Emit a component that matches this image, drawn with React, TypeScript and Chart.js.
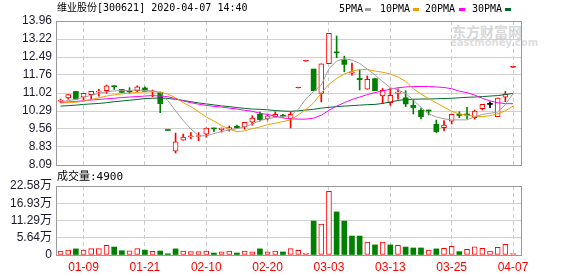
import React, { useEffect, useRef } from 'react';
import { Chart, registerables } from 'chart.js';

Chart.register(...registerables);

// ---------- data ----------
const dates = [
  '01-06', '01-07', '01-08', '01-09', '01-10', '01-13', '01-14', '01-15', '01-16', '01-17',
  '01-20', '01-21', '01-22', '01-23', '02-03', '02-04', '02-05', '02-06', '02-07', '02-10',
  '02-11', '02-12', '02-13', '02-14', '02-17', '02-18', '02-19', '02-20', '02-21', '02-24',
  '02-25', '02-26', '02-27', '02-28', '03-02', '03-03', '03-04', '03-05', '03-06', '03-09',
  '03-10', '03-11', '03-12', '03-13', '03-16', '03-17', '03-18', '03-19', '03-20', '03-23',
  '03-24', '03-25', '03-26', '03-27', '03-30', '03-31', '04-01', '04-02', '04-03', '04-07',
];
const labelledDates = ['01-09', '01-21', '02-10', '02-20', '03-03', '03-13', '03-25', '04-07'];

const opens = [
  10.69, 10.82, 11.09, 10.85, 10.96, 11.06, 11.12, 11.32, 11.17, 11.10,
  11.12, 11.23, 11.07, 11.04, 9.50, 8.65, 9.10, 9.24, 9.25, 9.35,
  9.60, 9.52, 9.55, 9.67, 9.64, 9.84, 10.16, 9.98, 10.05, 10.12,
  9.99, 11.23, 12.32, 12.00, 11.01, 12.22, 12.70, 12.38, 11.83, 11.62,
  11.18, 11.61, 10.91, 10.63, 11.01, 10.83, 10.52, 10.32, 10.33, 9.75,
  9.61, 9.88, 10.16, 10.17, 10.02, 10.39, 10.56, 10.06, 10.85, 12.07,
];
const closes = [
  10.71, 10.96, 10.77, 11.01, 11.09, 11.10, 11.32, 11.28, 11.05, 11.07,
  11.28, 11.09, 11.10, 10.59, 9.50, 9.03, 9.23, 9.28, 9.29, 9.60,
  9.56, 9.60, 9.62, 9.60, 9.83, 10.00, 9.94, 10.09, 10.16, 10.08,
  10.16, 11.23, 12.32, 11.12, 12.21, 13.46, 12.66, 12.19, 11.89, 11.57,
  11.58, 11.12, 11.13, 10.93, 11.07, 10.58, 10.43, 10.06, 10.29, 9.45,
  9.72, 10.16, 10.11, 10.12, 10.29, 10.56, 10.56, 10.82, 10.98, 12.07,
];
const highs = [
  10.78, 10.96, 11.09, 11.01, 11.09, 11.17, 11.35, 11.32, 11.17, 11.24,
  11.32, 11.28, 11.15, 11.07, 9.50, 9.39, 9.35, 9.41, 9.41, 9.60,
  9.60, 9.60, 9.68, 9.72, 9.83, 10.10, 10.25, 10.14, 10.26, 10.16,
  10.24, 11.23, 12.32, 12.00, 12.21, 13.46, 13.35, 12.53, 12.24, 11.96,
  11.72, 11.61, 11.21, 11.21, 11.20, 11.12, 10.77, 10.41, 10.33, 9.92,
  9.90, 10.16, 10.26, 10.44, 10.33, 10.56, 10.67, 10.82, 11.09, 12.07,
];
const lows = [
  10.63, 10.77, 10.77, 10.74, 10.77, 10.90, 11.01, 11.17, 11.05, 11.01,
  11.07, 11.09, 10.87, 10.22, 9.50, 8.58, 9.10, 9.16, 9.08, 9.22,
  9.45, 9.43, 9.47, 9.60, 9.55, 9.71, 9.88, 9.92, 10.05, 10.04,
  9.60, 11.23, 12.32, 11.12, 10.66, 12.22, 12.46, 11.89, 11.75, 11.15,
  11.18, 11.12, 10.59, 10.52, 10.77, 10.47, 10.17, 9.97, 10.13, 9.41,
  9.48, 9.76, 10.02, 9.98, 9.96, 10.33, 10.43, 10.06, 10.67, 12.07,
];
// volume, unit: 万
const volumes = [
  1.3, 1.6, 2.0, 1.6, 2.1, 2.1, 3.2, 2.6, 1.4, 1.4,
  2.1, 1.6, 1.2, 1.3, 0.4, 2.0, 1.3, 1.1, 1.1, 1.3,
  0.65, 1.0, 1.3, 0.65, 1.3, 1.0, 2.0, 1.0, 1.3, 1.0,
  2.1, 1.5, 0.65, 11.1, 10.1, 20.8, 14.1, 11.1, 6.2, 6.2,
  4.25, 3.3, 4.25, 3.3, 3.15, 2.6, 2.3, 2.3, 1.6, 2.0,
  2.2, 2.8, 1.1, 1.85, 2.7, 2.2, 1.3, 2.5, 3.5, 0.49,
];
const ma5 = [
  10.67, 10.71, 10.77, 10.85, 10.93, 11.01, 11.07, 11.11, 11.12, 11.13,
  11.15, 11.13, 11.11, 11.04, 10.71, 10.30, 9.90, 9.56, 9.28, 9.28,
  9.37, 9.45, 9.52, 9.57, 9.65, 9.76, 9.90, 9.98, 10.03, 10.06,
  10.10, 10.36, 10.79, 11.08, 11.35, 12.02, 12.33, 12.42, 12.37, 12.23,
  12.00, 11.76, 11.49, 11.24, 11.15, 11.01, 10.74, 10.44, 10.17, 10.05,
  9.97, 9.93, 9.93, 9.93, 10.05, 10.15, 10.20, 10.25, 10.55, 11.00,
];
const ma10 = [
  10.62, 10.63, 10.65, 10.70, 10.76, 10.83, 10.90, 10.95, 10.99, 11.02,
  11.05, 11.07, 11.08, 11.06, 10.98, 10.83, 10.63, 10.47, 10.26, 10.05,
  9.88, 9.70, 9.55, 9.45, 9.48, 9.57, 9.64, 9.74, 9.79, 9.86,
  9.93, 10.13, 10.36, 10.62, 11.02, 11.38, 11.62, 11.80, 11.92, 11.98,
  11.98, 11.92, 11.87, 11.80, 11.68, 11.50, 11.20, 10.98, 10.80, 10.62,
  10.45, 10.28, 10.17, 10.12, 10.08, 10.06, 10.10, 10.18, 10.30, 10.49,
];
const ma20 = [
  10.63, 10.66, 10.68, 10.71, 10.74, 10.76, 10.79, 10.81, 10.84, 10.86,
  10.88, 10.90, 10.92, 10.90, 10.87, 10.80, 10.70, 10.63, 10.57, 10.52,
  10.48, 10.45, 10.41, 10.37, 10.32, 10.28, 10.20, 10.15, 10.08, 10.01,
  9.97, 9.96, 9.96, 10.00, 10.12, 10.32, 10.49, 10.63, 10.76, 10.86,
  10.96, 11.04, 11.11, 11.18, 11.24, 11.27, 11.29, 11.29, 11.29, 11.27,
  11.25, 11.20, 11.10, 11.04, 10.94, 10.81, 10.70, 10.63, 10.59, 10.59,
];
const ma30 = [
  10.49, 10.51, 10.53, 10.56, 10.58, 10.60, 10.63, 10.67, 10.70, 10.73,
  10.76, 10.80, 10.81, 10.82, 10.80, 10.77, 10.72, 10.67, 10.62, 10.58,
  10.54, 10.50, 10.47, 10.43, 10.40, 10.37, 10.36, 10.34, 10.31, 10.29,
  10.28, 10.30, 10.33, 10.36, 10.41, 10.44, 10.47, 10.49, 10.51, 10.53,
  10.55, 10.56, 10.60, 10.66, 10.72, 10.76, 10.77, 10.78, 10.78, 10.79,
  10.80, 10.81, 10.83, 10.85, 10.86, 10.88, 10.90, 10.92, 10.96, 11.01,
];
const priceTicks = [8.09, 8.83, 9.56, 10.29, 11.02, 11.76, 12.49, 13.22, 13.96];
const volumeTicks = [0, 5.64, 11.29, 16.93, 22.58];

// ---------- styling ----------
const RED = '#ff0000';
const GREEN = '#008000';
const BLACK = '#000000';
const MA_COLORS = ['#a0a0a0', '#f0a000', '#ff00ff', '#00692d'];
const TICK_FONT = { family: "'Liberation Sans', 'Noto Sans CJK SC', sans-serif", size: 12 };
const X_MIN = -0.59;
const X_MAX = 60.17;

const tickIndices = labelledDates.map((d) => dates.indexOf(d));

function candleDir(i: number): number {
  if (closes[i] > opens[i]) return 1;
  if (closes[i] < opens[i]) return -1;
  const prev = i > 0 ? closes[i - 1] : opens[i];
  return closes[i] > prev ? 1 : closes[i] < prev ? -1 : 0;
}
function volumeDir(i: number): number {
  const prev = i > 0 ? closes[i - 1] : opens[i];
  return closes[i] >= prev ? 1 : -1;
}
function dirColor(d: number) {
  return d > 0 ? RED : d < 0 ? GREEN : BLACK;
}

const framePlugin = {
  id: 'frame',
  beforeDatasetsDraw(chart: any) {
    const { ctx, chartArea: a } = chart;
    ctx.save();
    ctx.strokeStyle = '#999999';
    ctx.lineWidth = 1;
    ctx.strokeRect(
      Math.round(a.left) + 0.5,
      Math.round(a.top) + 0.5,
      Math.round(a.right - a.left) - 1,
      Math.round(a.bottom - a.top)
    );
    ctx.restore();
  },
};

function zeroPadding(s: any) {
  s.paddingTop = 0;
  s.paddingBottom = 0;
  s.paddingLeft = 0;
  s.paddingRight = 0;
}

function xScale(showLabels: boolean) {
  return {
    type: 'linear',
    min: X_MIN,
    max: X_MAX,
    offset: false,
    grid: { offset: false, color: '#cccccc', lineWidth: 1, drawTicks: false },
    border: { display: false, dash: [4, 3] },
    ticks: {
      display: showLabels,
      autoSkip: false,
      maxRotation: 0,
      padding: 5,
      color: RED,
      font: TICK_FONT,
      callback: (v: any) => dates[Math.round(Number(v))] ?? '',
    },
    afterBuildTicks: (s: any) => {
      s.ticks = tickIndices.map((v) => ({ value: v }));
    },
    afterFit: (s: any) => {
      s.height = showLabels ? 21 : 0;
      zeroPadding(s);
    },
  };
}

function yScale(min: number, max: number, ticks: number[], fmt: (v: number) => string) {
  return {
    type: 'linear',
    min,
    max,
    grid: { color: '#d0d0d0', lineWidth: 1, drawTicks: false },
    border: { display: false },
    ticks: {
      padding: 4,
      color: '#1a1a2e',
      font: TICK_FONT,
      autoSkip: false,
      callback: (v: any) => fmt(Number(v)),
    },
    afterBuildTicks: (s: any) => {
      s.ticks = ticks.map((v) => ({ value: v }));
    },
    afterFit: (s: any) => {
      s.width = 56;
      zeroPadding(s);
    },
  };
}

function priceConfig(): any {
  const lines = [ma5, ma10, ma20, ma30].map((arr, k) => ({
    type: 'line',
    data: arr.map((v, i) => ({ x: i, y: v })),
    borderColor: MA_COLORS[k],
    borderWidth: 1,
    pointRadius: 0,
    tension: 0,
    fill: false,
    order: 0,
  }));
  const bodies = {
    type: 'bar',
    data: dates.map((_, i) => ({ x: i, y: [Math.min(opens[i], closes[i]), Math.max(opens[i], closes[i])] })),
    grouped: false,
    barThickness: 5,
    maxBarThickness: 5,
    minBarLength: 1,
    borderSkipped: false,
    borderWidth: (c: any) => (c.dataIndex !== undefined && candleDir(c.dataIndex) > 0 ? 1 : 0),
    borderColor: RED,
    backgroundColor: (c: any) => {
      if (c.dataIndex === undefined) return RED;
      const d = candleDir(c.dataIndex);
      if (d > 0) return opens[c.dataIndex] === closes[c.dataIndex] ? RED : '#ffffff';
      return dirColor(d);
    },
    order: 1,
  };
  const wicks = {
    type: 'bar',
    data: dates.map((_, i) => ({ x: i, y: [lows[i], highs[i]] })),
    grouped: false,
    barThickness: 1,
    maxBarThickness: 1,
    borderWidth: 0,
    backgroundColor: (c: any) => (c.dataIndex === undefined ? RED : dirColor(candleDir(c.dataIndex))),
    order: 2,
  };
  return {
    type: 'bar',
    data: { datasets: [...lines, bodies, wicks] },
    options: {
      responsive: false,
      maintainAspectRatio: false,
      animation: false,
      events: [],
      layout: { padding: { top: 21, right: 56, bottom: 5, left: 0 } },
      plugins: { legend: { display: false }, tooltip: { enabled: false }, title: { display: false } },
      scales: {
        x: xScale(false),
        y: yScale(8.09, 13.96, priceTicks, (v) => v.toFixed(2)),
      },
    },
    plugins: [framePlugin],
  };
}

function volumeConfig(): any {
  return {
    type: 'bar',
    data: {
      datasets: [
        {
          type: 'bar',
          data: volumes.map((v, i) => ({ x: i, y: v })),
          grouped: false,
          barThickness: 5,
          maxBarThickness: 5,
          borderSkipped: false,
          borderColor: RED,
          borderWidth: (c: any) => (c.dataIndex !== undefined && volumeDir(c.dataIndex) > 0 ? 1 : 0),
          backgroundColor: (c: any) =>
            c.dataIndex !== undefined && volumeDir(c.dataIndex) > 0 ? '#ffffff' : GREEN,
        },
      ],
    },
    options: {
      responsive: false,
      maintainAspectRatio: false,
      animation: false,
      events: [],
      layout: { padding: { top: 16, right: 56, bottom: 0, left: 0 } },
      plugins: { legend: { display: false }, tooltip: { enabled: false }, title: { display: false } },
      scales: {
        x: xScale(true),
        y: yScale(0, 22.58, volumeTicks, (v) => (v === 0 ? '0' : v.toFixed(2) + '万')),
      },
    },
    plugins: [framePlugin],
  };
}

const textFont = "'DejaVu Sans Mono', 'Noto Sans CJK SC', monospace";

export default function App() {
  const priceRef = useRef<HTMLCanvasElement>(null);
  const volRef = useRef<HTMLCanvasElement>(null);

  useEffect(() => {
    const c1 = new Chart(priceRef.current as HTMLCanvasElement, priceConfig());
    const c2 = new Chart(volRef.current as HTMLCanvasElement, volumeConfig());
    return () => {
      c1.destroy();
      c2.destroy();
    };
  }, []);

  const legendItems = [
    { label: '5PMA', left: 339, sw: 365, color: MA_COLORS[0] },
    { label: '10PMA', left: 380, sw: 413, color: MA_COLORS[1] },
    { label: '20PMA', left: 425, sw: 459, color: MA_COLORS[2] },
    { label: '30PMA', left: 472, sw: 505, color: MA_COLORS[3] },
  ];

  return (
    <div
      style={{
        position: 'absolute',
        left: 0,
        top: 0,
        width: 578,
        height: 276,
        background: '#ffffff',
        overflow: 'hidden',
        color: '#000',
      }}
    >
      {/* watermark */}
      <div
        style={{
          position: 'absolute',
          left: 452,
          top: 23,
          font: "bold 14px 'Noto Sans CJK SC'",
          lineHeight: '16px',
          color: '#d8d8d8',
          zIndex: 0,
        }}
      >
        东方财富网
      </div>
      <div
        style={{
          position: 'absolute',
          left: 450,
          top: 38,
          font: "bold 10px 'DejaVu Sans'",
          lineHeight: '10px',
          color: '#dedede',
          zIndex: 0,
        }}
      >
        eastmoney.com
      </div>

      <canvas
        ref={priceRef}
        width={578}
        height={170}
        style={{ position: 'absolute', left: 0, top: 0, width: 578, height: 170, zIndex: 1 }}
      />
      <canvas
        ref={volRef}
        width={578}
        height={106}
        style={{ position: 'absolute', left: 0, top: 170, width: 578, height: 106, zIndex: 1 }}
      />

      <div
        style={{
          position: 'absolute',
          left: 57,
          top: 2,
          font: `10px ${textFont}`,
          lineHeight: '11px',
          whiteSpace: 'pre',
          zIndex: 2,
        }}
      >
        维业股份[300621] 2020-04-07 14:40
      </div>

      {legendItems.map((it) => (
        <React.Fragment key={it.label}>
          <div
            style={{
              position: 'absolute',
              left: it.left,
              top: 3,
              font: `10px ${textFont}`,
              lineHeight: '11px',
              whiteSpace: 'pre',
              zIndex: 2,
            }}
          >
            {it.label}
          </div>
          <div
            style={{
              position: 'absolute',
              left: it.sw,
              top: 8,
              width: 6,
              height: 3,
              background: it.color,
              zIndex: 2,
            }}
          />
        </React.Fragment>
      ))}

      <div
        style={{
          position: 'absolute',
          left: 57,
          top: 171,
          font: `11px ${textFont}`,
          lineHeight: '12px',
          whiteSpace: 'pre',
          zIndex: 2,
        }}
      >
        成交量:4900
      </div>
    </div>
  );
}
